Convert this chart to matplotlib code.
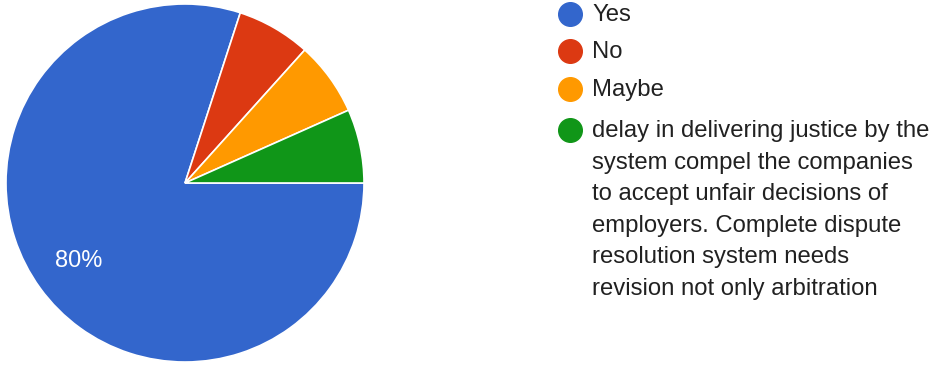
import matplotlib.pyplot as plt
from matplotlib.lines import Line2D

plt.rcParams['font.family'] = ['Liberation Sans', 'DejaVu Sans']

labels = ['Yes', 'No', 'Maybe',
          'delay in delivering justice by the\nsystem compel the companies\n'
          'to accept unfair decisions of\nemployers. Complete dispute\n'
          'resolution system needs\nrevision not only arbitration']
counts = [12, 1, 1, 1]
colors = ['#3366cc', '#dc3912', '#ff9900', '#109618']

fig = plt.figure(figsize=(9.32, 3.67), dpi=100)
W, H = 932.0, 367.0

# pie: center (185, 183) px, radius 179 px
cx, cy, r = 185, 183, 179
ax = fig.add_axes([(cx - r) / W, (H - cy - r) / H, 2 * r / W, 2 * r / H])


def pct_label(p):
    return '%d%%' % round(p) if p > 10 else ''


wedges, texts, autotexts = ax.pie(
    counts, colors=colors, startangle=0, counterclock=False,
    autopct=pct_label, pctdistance=0.737, radius=1.0,
    wedgeprops=dict(edgecolor='white', linewidth=1.2),
    textprops=dict(color='white', fontsize=17))
ax.set_xlim(-1, 1)
ax.set_ylim(-1, 1)
ax.set_aspect('equal')
ax.axis('off')

# legend on the right
marker_x = 570
text_x = 592
rows_y = [14, 51, 89, 130]
for lab, col, y in zip(labels, colors, rows_y):
    fig.add_artist(Line2D([marker_x / W], [1 - y / H], marker='o',
                          markersize=17, color=col, linestyle='none',
                          transform=fig.transFigure))
    if '\n' in lab:
        fig.text(text_x / W, 1 - (y - 10) / H, lab, fontsize=17.2,
                 color='#212121', va='top', ha='left', linespacing=1.56)
    else:
        fig.text(text_x / W, 1 - (y + 1) / H, lab, fontsize=17.2,
                 color='#212121', va='center', ha='left')

fig.savefig('out.png', dpi=100, facecolor='white')
